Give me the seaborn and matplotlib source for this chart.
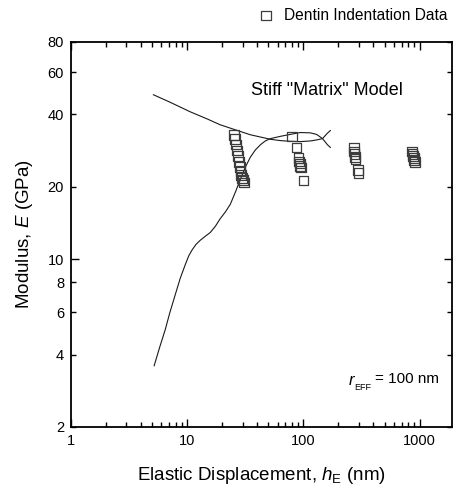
import matplotlib
matplotlib.use("Agg")
import matplotlib.pyplot as plt
import matplotlib.ticker as mticker
import numpy as np
import pandas as pd
import seaborn as sns

# --- measured indentation data (elastic displacement nm, modulus GPa) ---
h_c1 = [25.4, 25.8, 26.3, 26.8, 27.3, 27.8, 28.3, 28.8, 29.2, 29.7, 30.2, 31.0]
e_c1 = [32.9, 31.5, 30.0, 28.3, 26.8, 25.3, 24.2, 23.2, 22.4, 21.8, 21.3, 20.8]
h_c2 = [80.0, 87.0, 90.5, 92.0, 93.0, 94.0, 95.0, 100.0]
e_c2 = [32.3, 29.1, 26.4, 25.5, 25.0, 24.4, 24.0, 21.2]
h_c3 = [272.0, 274.0, 276.0, 278.0, 280.0, 295.0, 298.0]
e_c3 = [29.0, 28.0, 27.3, 26.6, 26.0, 23.4, 22.8]
h_c4 = [860.0, 870.0, 880.0, 890.0, 900.0, 910.0]
e_c4 = [28.0, 27.4, 26.8, 26.3, 25.8, 25.4]

# --- stiff "matrix" model curves ---
h_model_a = [5.1, 7.0, 10.6, 15.0, 19.2, 25.0, 30.0, 34.9, 45.0, 52.0, 63.4,
             77.0, 94.0, 115.0, 130.0, 146.0, 161.0, 171.0]
e_model_a = [48.3, 45.1, 41.0, 38.2, 36.2, 34.7, 33.7, 32.9, 32.0, 31.5, 31.1,
             30.9, 30.8, 31.0, 31.3, 31.7, 33.4, 34.3]
h_model_b = [5.19, 5.8, 6.46, 7.1, 7.88, 8.7, 9.61, 10.3, 11.0, 11.9, 12.9,
             14.2, 15.8, 17.5, 19.2, 21.3, 23.5, 26.0, 28.7, 31.5, 34.9,
             38.5, 42.7, 47.0, 52.0, 63.4, 77.0, 94.0, 115.0, 130.0, 146.0,
             161.0, 171.0]
e_model_b = [3.59, 4.3, 5.07, 6.0, 7.09, 8.3, 9.46, 10.3, 10.9, 11.5, 11.95,
             12.4, 12.9, 13.7, 14.7, 15.7, 16.9, 19.0, 21.5, 24.0, 26.5,
             28.4, 29.9, 31.0, 31.7, 32.4, 33.0, 33.6, 33.5, 33.0, 31.7,
             29.9, 29.1]

x_ticks_major = [1, 10, 100, 1000]
y_ticks_major = [10]
y_ticks_minor = [2, 4, 6, 8, 20, 40, 60, 80]

sns.set_theme(style="ticks")
plt.rcParams["font.family"] = ["Liberation Sans", "DejaVu Sans"]
plt.rcParams["mathtext.fontset"] = "custom"
plt.rcParams["mathtext.rm"] = "Liberation Sans"
plt.rcParams["mathtext.it"] = "Liberation Sans:italic"
plt.rcParams["text.color"] = "black"
plt.rcParams["axes.labelcolor"] = "black"

fig = plt.figure(figsize=(4.56, 4.91), dpi=100)
ax = fig.add_axes([71 / 456, 1 - 427 / 491, 381 / 456, 385 / 491])

pts = pd.DataFrame({
    "h": h_c1 + h_c2 + h_c3 + h_c4,
    "E": e_c1 + e_c2 + e_c3 + e_c4,
})
model_a = pd.DataFrame({"h": h_model_a, "E": e_model_a})
model_b = pd.DataFrame({"h": h_model_b, "E": e_model_b})

line_kw = dict(color="#1a1a1a", linewidth=0.8, sort=False, estimator=None,
               legend=False, ax=ax)
sns.lineplot(data=model_a, x="h", y="E", **line_kw)
sns.lineplot(data=model_b, x="h", y="E", **line_kw)

sns.scatterplot(data=pts, x="h", y="E", marker="s", s=48, facecolor="none",
                edgecolor="#3c3c3c", linewidth=0.9, ax=ax,
                label="Dentin Indentation Data", zorder=3)

ax.set_xscale("log")
ax.set_yscale("log")
ax.set_xlim(1, 1900)
ax.set_ylim(2, 80)

ax.xaxis.set_major_locator(mticker.FixedLocator(x_ticks_major))
ax.xaxis.set_major_formatter(mticker.FixedFormatter([str(v) for v in x_ticks_major]))
ax.xaxis.set_minor_locator(mticker.LogLocator(base=10, subs=np.arange(2, 10), numticks=20))
ax.xaxis.set_minor_formatter(mticker.NullFormatter())

ax.yaxis.set_major_locator(mticker.FixedLocator(y_ticks_major))
ax.yaxis.set_major_formatter(mticker.FixedFormatter([str(v) for v in y_ticks_major]))
ax.yaxis.set_minor_locator(mticker.FixedLocator(y_ticks_minor))
ax.yaxis.set_minor_formatter(mticker.FixedFormatter([str(v) for v in y_ticks_minor]))

ax.tick_params(which="both", direction="in", top=True, right=True,
               colors="black", labelcolor="black", labelsize=10.5, width=1.0, pad=5)
ax.tick_params(which="major", length=6)
ax.tick_params(which="minor", length=3.5)
for sp in ax.spines.values():
    sp.set_linewidth(1.3)
    sp.set_color("black")

ax.set_xlabel(r"Elastic Displacement, $h_{\mathrm{E}}$ (nm)", fontsize=13.5)
ax.set_ylabel(r"Modulus, $E$ (GPa)", fontsize=13.5)
ax.xaxis.set_label_coords(0.5, -0.10)
ax.yaxis.set_label_coords(-0.095, 0.5)

ax.text(0.871, 0.875, 'Stiff "Matrix" Model', transform=ax.transAxes,
        ha="right", va="center", fontsize=13)

# effective radius note: italic r with a small, low "EFF" subscript
t_val = ax.text(0.965, 0.113, "= 100 nm", transform=ax.transAxes,
                ha="right", va="baseline", fontsize=11)
t_sub = ax.annotate("EFF", xy=(0, 0), xycoords=t_val, xytext=(-2.5, -2.5),
                    textcoords="offset points", ha="right", va="baseline",
                    fontsize=6.5)
ax.annotate("r", xy=(0, 0), xycoords=t_sub, xytext=(0, 2.5),
            textcoords="offset points", ha="right", va="bottom",
            fontsize=12, fontstyle="italic")

ax.legend(loc="center left", bbox_to_anchor=(258 / 456, 1 - 15 / 491),
          bbox_transform=fig.transFigure, frameon=False, handlelength=1.0,
          handletextpad=0.7, borderpad=0, borderaxespad=0, fontsize=11.2)

fig.savefig("out.png", dpi=100)
